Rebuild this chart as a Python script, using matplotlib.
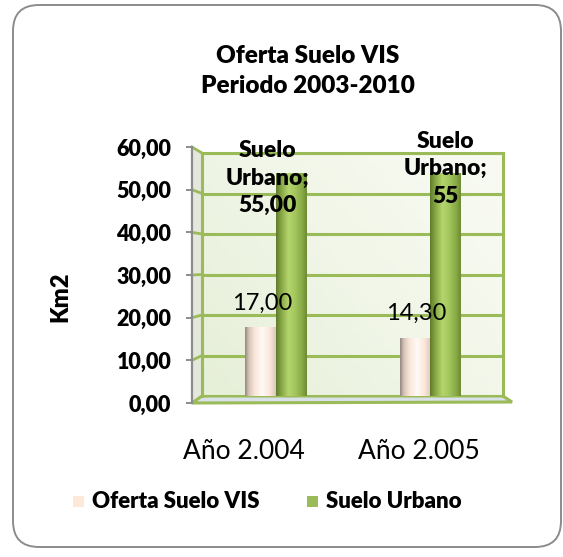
import numpy as np
import matplotlib
matplotlib.use("Agg")
import matplotlib.pyplot as plt
from matplotlib.patches import Polygon, Rectangle, FancyBboxPatch
from matplotlib.lines import Line2D
from matplotlib.colors import LinearSegmentedColormap
from matplotlib.transforms import IdentityTransform

plt.rcParams['font.family'] = ['Lato', 'DejaVu Sans']
BOLD = 800

# ---------------- data ----------------
categories = ["Año 2.004", "Año 2.005"]
series_names = ["Oferta Suelo VIS", "Suelo Urbano"]
oferta_vis = [17.00, 14.30]
suelo_urbano = [55.00, 55.00]
vis_labels = ["17,00", "14,30"]
urb_labels = ["Suelo\nUrbano;\n55,00", "Suelo\nUrbano;\n55"]
yticks = [0, 10, 20, 30, 40, 50, 60]
ytick_labels = ["0,00", "10,00", "20,00", "30,00", "40,00", "50,00", "60,00"]
title = "Oferta Suelo VIS\nPeriodo 2003-2010"
ylabel = "Km2"

# ---------------- style ----------------
W, H = 563, 557
GREEN = "#9bbb59"
PEACH = "#fde9d9"

def fx(x):
    return x / W

def fy(y):
    return 1 - y / H

fig = plt.figure(figsize=(W / 100, H / 100), dpi=100)
fig.patch.set_facecolor("white")

# rounded chart border (pixel coords)
border = FancyBboxPatch((13, H - 547), 548, 542,
                        boxstyle="round,pad=0,rounding_size=26",
                        transform=IdentityTransform(), facecolor="white",
                        edgecolor="#8c8c8c", linewidth=1.4, zorder=-10)
fig.patches.append(border)

# ---- back wall axes ----
bl, br, bt, bb = 202, 503, 153, 396
ax = fig.add_axes([fx(bl), fy(bb), (br - bl) / W, (bb - bt) / H])
ax.set_zorder(2)
xl = (-0.476, 1.472)
ax.set_xlim(*xl)
ax.set_ylim(0, 60)
ax.set_facecolor("none")
wall = LinearSegmentedColormap.from_list("wall", ["#e6efd8", "#f1f6e8", "#f9fbf3"])
gx, gy = np.meshgrid(np.linspace(0, 1, 64), np.linspace(0, 1, 64))
ax.imshow(0.6 * gx + 0.4 * gy, cmap=wall, extent=(xl[0], xl[1], 0, 60),
          aspect="auto", origin="lower", zorder=0)
ax.set_yticks(yticks)
ax.set_xticks([])
ax.tick_params(axis="y", length=0, labelleft=False)
ax.grid(axis="y", color=GREEN, linewidth=2.2, zorder=1)
for s in ["top", "right", "left"]:
    ax.spines[s].set_color(GREEN)
    ax.spines[s].set_linewidth(2.2)
ax.spines["bottom"].set_visible(False)
ax.set_axisbelow(True)

x = np.arange(len(categories))
w = 0.195
bars_vis = ax.bar(x - w / 2, oferta_vis, w, color=PEACH, zorder=3)
bars_urb = ax.bar(x + w / 2, suelo_urbano, w, color=GREEN, zorder=3)

cmap_vis = LinearSegmentedColormap.from_list(
    "cv", [(0, "#948680"), (0.12, "#d5c2b7"), (0.3, "#f9e5d8"),
           (0.55, "#fffaf6"), (0.8, "#fbe7da"), (1, "#dcc8bc")])
cmap_urb = LinearSegmentedColormap.from_list(
    "cu", [(0, "#5f7b2a"), (0.15, "#82a242"), (0.4, "#b4d56d"),
           (0.6, "#a6c95f"), (0.85, "#87a946"), (1, "#6d8b34")])
grad = np.linspace(0, 1, 128).reshape(1, -1)
for rects, cm in ((bars_vis, cmap_vis), (bars_urb, cmap_urb)):
    for r in rects:
        x0, y0 = r.get_x(), r.get_y()
        im = ax.imshow(grad, cmap=cm, extent=(x0, x0 + r.get_width(), y0, y0 + r.get_height()),
                       aspect="auto", zorder=4)
        im.set_clip_path(r)
ax.set_xlim(*xl)
ax.set_ylim(0, 60)

# data labels
for i in range(len(categories)):
    ax.text(x[i] - w / 2 + 0.01, oferta_vis[i] + 6.0, vis_labels[i], ha="center",
            va="center", fontsize=17, zorder=6)
urb_dx = [-0.05, 0.1]
urb_dy = [-1.2, 1.1]
for i in range(len(categories)):
    ax.text(x[i] + urb_dx[i], suelo_urbano[i] + urb_dy[i], urb_labels[i], ha="center",
            va="center", fontsize=16.5, fontweight=BOLD, linespacing=1.38, zorder=6)

# ---- front axes (axis labels) ----
fl, fr, ft, fb = 192, 512, 147, 403
axf = fig.add_axes([fx(fl), fy(fb), (fr - fl) / W, (fb - ft) / H])
axf.set_zorder(1)
axf.set_xlim(-0.297, 1.531)
axf.set_ylim(0, 60)
axf.patch.set_visible(False)
for s in ["top", "right", "bottom"]:
    axf.spines[s].set_visible(False)
axf.spines["left"].set_color("#8c8c8c")
axf.spines["left"].set_linewidth(1.6)
axf.tick_params(axis="y", length=4, width=1.4, color="#8c8c8c", pad=11)
axf.tick_params(axis="x", length=0, pad=26)
axf.set_yticks(yticks)
axf.set_yticklabels(ytick_labels, fontsize=15.5, fontweight=BOLD)
axf.set_xticks(x)
axf.set_xticklabels(categories, fontsize=19)

# 3D decorations: side wall, floor, tick connectors
to_fig = fig.transFigure.inverted()
def fpt(axis, xv, yv):
    return to_fig.transform(axis.transData.transform((xv, yv)))

side = Polygon([(fx(fl), fy(ft)), (fx(bl), fy(bt)), (fx(bl), fy(bb)), (fx(fl), fy(fb))],
               closed=True, transform=fig.transFigure, facecolor="#e3e7dc",
               edgecolor="none", zorder=-5)
fig.patches.append(side)
floor = Polygon([(fx(fl), fy(fb)), (fx(fr), fy(fb - 1)), (fx(br), fy(bb)), (fx(bl), fy(bb))],
                closed=True, transform=fig.transFigure, facecolor="#d9e1ea",
                edgecolor=GREEN, linewidth=2.2, zorder=-4)
fig.patches.append(floor)
for v in yticks[1:]:
    p0 = fpt(axf, axf.get_xlim()[0], v)
    p1 = fpt(ax, xl[0], v)
    fig.add_artist(Line2D([p0[0], p1[0]], [p0[1], p1[1]], transform=fig.transFigure,
                          color=GREEN, linewidth=2.0, zorder=-3))

# title & y-label
fig.text(fx(308), fy(71), title, ha="center", va="center", fontsize=17.5,
         fontweight=BOLD, linespacing=1.45)
fig.text(fx(60), fy(297), ylabel, ha="center", va="center", rotation=90,
         fontsize=17, fontweight=BOLD)

# legend
leg_colors = [PEACH, GREEN]
leg_sq = [73, 307]
for c, sx, name in zip(leg_colors, leg_sq, series_names):
    fig.patches.append(Rectangle((fx(sx), fy(507)), 11 / W, 11 / H, transform=fig.transFigure,
                                 facecolor=c, edgecolor="none"))
    fig.text(fx(sx + 19), fy(501), name, ha="left", va="center", fontsize=16,
             fontweight=BOLD)

fig.savefig("out.png", dpi=100)
